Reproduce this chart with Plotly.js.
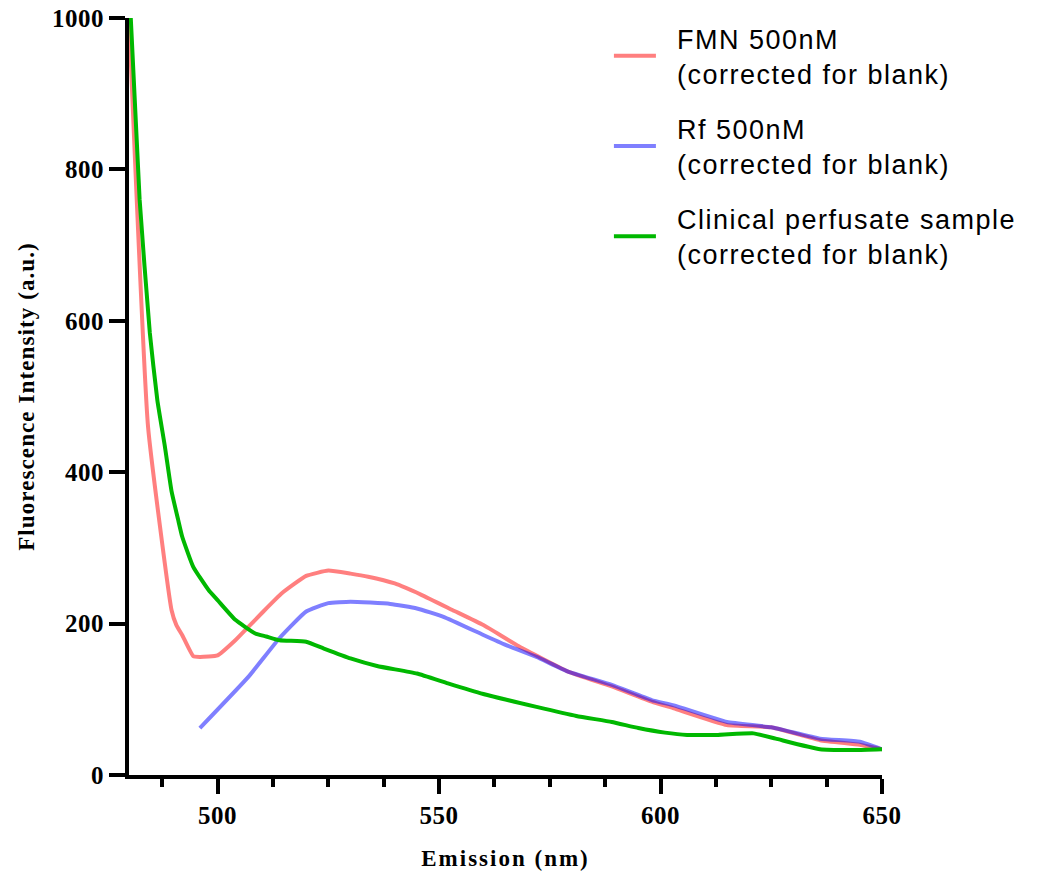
<!DOCTYPE html>
<html>
<head>
<meta charset="utf-8">
<script src="https://cdn.plot.ly/plotly-3.0.1.min.js"></script>
<style>
html,body{margin:0;padding:0;background:#fff;}
#chart{width:1044px;height:871px;}
#chart .legendtext{letter-spacing:1.5px;}
#chart .xtitle{letter-spacing:2px;}
#chart .ytitle{letter-spacing:1.1px;}
#chart .xtick text, #chart .ytick text{letter-spacing:0.5px;}
</style>
</head>
<body>
<div id="chart"></div>
<script>
// FMN 500nM (corrected for blank)
const fmnX = [480, 484.3, 489.6, 490.7, 492, 494.5, 496, 500, 504, 507, 510, 514.5, 520, 525, 530, 534, 540, 546, 553, 560, 568, 579, 589, 598, 603, 615, 625, 636, 645, 650];
const fmnY = [1000, 460, 218, 198, 185, 157, 156, 158, 178, 196, 214, 240, 263, 270, 266, 262, 253, 238, 218, 198, 170, 137, 117, 97, 88, 66, 63, 46, 40, 34];

// Rf 500nM (corrected for blank)
const rfX = [496, 507, 514, 520, 525, 530, 539, 545, 551, 560, 565, 572, 579, 589, 598, 603, 615, 625, 636, 645, 650];
const rfY = [62, 130, 181, 216, 227, 229, 226, 220, 209, 185, 172, 156, 137, 119, 99, 92, 70, 63, 48, 44, 34];

// Clinical perfusate sample (corrected for blank)
const cpX = [480.4, 482.4, 484.7, 486.4, 488.1, 489.6, 491.1, 492, 494.5, 498, 500, 504, 508.5, 511, 514, 520, 524, 530, 536, 545, 552, 560, 572, 581, 589, 595, 601, 606, 613, 621, 626, 636, 644, 650];
const cpY = [1000, 760, 584, 495, 434, 375, 337, 315, 275, 244, 231, 205, 187, 183, 178, 176, 167, 154, 144, 134, 121, 107, 90, 78, 70, 62, 56, 53, 53, 55, 48, 34, 33, 34];

const seriesNames = ['FMN 500nM<br>(corrected for blank)', 'Rf 500nM<br>(corrected for blank)', 'Clinical perfusate sample<br>(corrected for blank)'];
const xTickVals = [500, 550, 600, 650];
const yTickVals = [0, 200, 400, 600, 800, 1000];

const serif = '"Liberation Serif", "Times New Roman", serif';
const tickFont = {family: serif, size: 25, color: '#000', weight: 'bold'};
const titleFont = {family: serif, size: 23, color: '#000', weight: 'bold'};

const lineShape = {shape: 'spline', smoothing: 0.4, width: 4};
const traces = [
  {x: fmnX, y: fmnY, name: seriesNames[0], legendgroup: 'g1', type: 'scatter', mode: 'lines', line: Object.assign({color: 'rgba(255,0,0,0.5)'}, lineShape)},
  {x: rfX, y: rfY, name: seriesNames[1], legendgroup: 'g2', type: 'scatter', mode: 'lines', line: Object.assign({color: 'rgba(0,0,255,0.5)'}, lineShape)},
  {x: cpX, y: cpY, name: seriesNames[2], legendgroup: 'g3', type: 'scatter', mode: 'lines', line: Object.assign({color: '#00B800'}, lineShape)}
];

const layout = {
  width: 1044, height: 871,
  margin: {l: 129, r: 162, t: 18, b: 96},
  paper_bgcolor: '#fff', plot_bgcolor: '#fff',
  showlegend: true,
  legend: {x: 0.64, xanchor: 'left', y: 1.005, yanchor: 'top', itemwidth: 56,
           font: {family: '"Liberation Sans", Arial, sans-serif', size: 27, color: '#000'},
           tracegroupgap: 17, traceorder: 'grouped', bgcolor: 'rgba(0,0,0,0)'},
  xaxis: {
    range: [480, 650], tickmode: 'array', tickvals: xTickVals, ticktext: xTickVals.map(String),
    showgrid: false, zeroline: false, showline: true, linecolor: '#000', linewidth: 4,
    ticks: 'outside', ticklen: 15, tickwidth: 4, tickcolor: '#000', tickfont: tickFont,
    minor: {tickmode: 'linear', tick0: 500, dtick: 12.5, ticks: 'outside', ticklen: 8, tickwidth: 4, tickcolor: '#000', showgrid: false},
    title: {text: 'Emission (nm)', font: titleFont, standoff: 26}
  },
  yaxis: {
    range: [0, 1000], tickmode: 'array', tickvals: yTickVals, ticktext: yTickVals.map(String),
    showgrid: false, zeroline: false, showline: true, linecolor: '#000', linewidth: 4,
    ticks: 'outside', ticklen: 16, tickwidth: 4, tickcolor: '#000', tickfont: tickFont,
    title: {text: 'Fluorescence Intensity (a.u.)\u00a0\u00a0\u00a0\u00a0', font: titleFont, standoff: 14}
  }
};

Plotly.newPlot('chart', traces, layout, {displayModeBar: false, staticPlot: true}).then(function () {
  document.querySelectorAll('#chart .legendlines path').forEach(function (p) {
    p.setAttribute('d', 'M3,0h42');
  });
  document.querySelectorAll('#chart .legend [clip-path]').forEach(function (e) {
    e.removeAttribute('clip-path');
  });
});
</script>
</body>
</html>
